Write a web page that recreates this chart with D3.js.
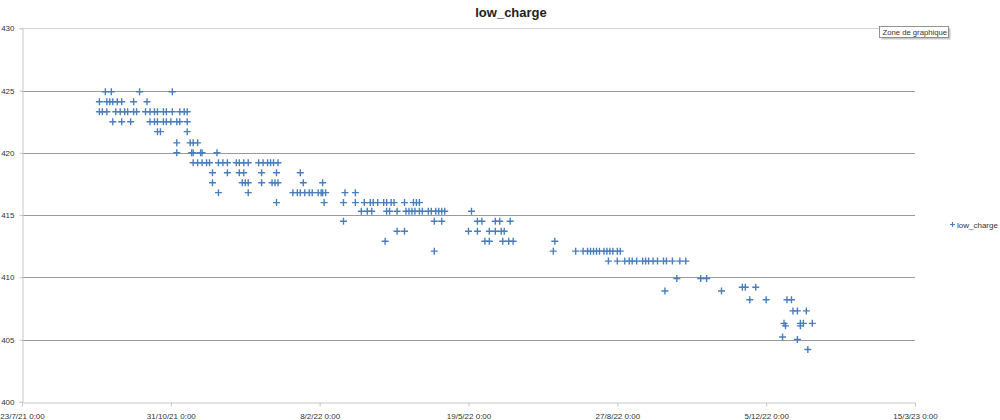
<!DOCTYPE html>
<html><head><meta charset="utf-8">
<script src="https://cdn.jsdelivr.net/npm/d3@7"></script>
<style>
body{margin:0;background:#fff}
svg{display:block;font-family:"Liberation Sans",Arial,sans-serif}
</style>
</head><body>
<svg id="chart" width="1000" height="420"></svg>
<script>
const chartTitle = "low_charge";
const seriesName = "low_charge";
const tooltipText = "Zone de graphique";

const dates = [
  "2021-09-17","2021-09-21","2021-10-10","2021-11-01",
  "2021-09-13","2021-09-18","2021-09-20","2021-09-22","2021-09-25","2021-09-28","2021-10-06","2021-10-15",
  "2021-09-13","2021-09-15","2021-09-18","2021-09-24","2021-09-27","2021-09-30","2021-10-02","2021-10-06","2021-10-08","2021-10-14","2021-10-17","2021-10-20","2021-10-22","2021-10-26","2021-10-28","2021-11-01","2021-11-06","2021-11-09","2021-11-11",
  "2021-09-22","2021-09-28","2021-10-04","2021-10-17","2021-10-20","2021-10-22","2021-10-26","2021-10-28","2021-10-31","2021-11-04","2021-11-06","2021-11-11",
  "2021-10-22","2021-10-24","2021-11-11",
  "2021-11-04","2021-11-13","2021-11-15","2021-11-18",
  "2021-11-04","2021-11-14","2021-11-15","2021-11-20","2021-11-21","2021-12-01",
  "2021-11-15","2021-11-18","2021-11-21","2021-11-24","2021-11-26","2021-12-02","2021-12-05","2021-12-08","2021-12-14","2021-12-16","2021-12-19","2021-12-22","2021-12-29","2022-01-01","2022-01-04","2022-01-06","2022-01-08","2022-01-11",
  "2021-11-28","2021-12-08","2021-12-16","2021-12-19","2021-12-31","2022-01-10","2022-01-26",
  "2021-11-28","2021-12-18","2021-12-20","2021-12-22","2021-12-31","2022-01-07","2022-01-09","2022-01-11","2022-01-28","2022-02-10",
  "2021-12-02","2021-12-22","2022-01-21","2022-01-24","2022-01-26","2022-01-29","2022-02-01","2022-02-03","2022-02-07","2022-02-09","2022-02-10","2022-02-12","2022-02-25","2022-03-04",
  "2022-01-10","2022-02-11","2022-02-24","2022-03-04","2022-03-10","2022-03-14","2022-03-16","2022-03-19","2022-03-23","2022-03-25","2022-03-28","2022-03-30","2022-04-06","2022-04-12","2022-04-14","2022-04-16",
  "2022-03-08","2022-03-12","2022-03-15","2022-03-25","2022-03-27","2022-04-01","2022-04-07","2022-04-09","2022-04-11","2022-04-13","2022-04-16","2022-04-18","2022-04-22","2022-04-24","2022-04-27","2022-04-29","2022-05-01","2022-05-03","2022-05-21",
  "2022-02-24","2022-04-26","2022-05-01","2022-05-25","2022-05-28","2022-06-06","2022-06-09","2022-06-16",
  "2022-04-01","2022-04-06","2022-05-19","2022-05-25","2022-06-02","2022-06-06","2022-06-10","2022-06-12",
  "2022-03-24","2022-05-30","2022-06-02","2022-06-11","2022-06-15","2022-06-18","2022-07-16",
  "2022-04-26","2022-07-15","2022-07-30","2022-08-04","2022-08-07","2022-08-09","2022-08-11","2022-08-13","2022-08-15","2022-08-18","2022-08-20","2022-08-22","2022-08-24","2022-08-27","2022-08-29",
  "2022-08-21","2022-08-27","2022-09-01","2022-09-04","2022-09-06","2022-09-09","2022-09-13","2022-09-15","2022-09-17","2022-09-20","2022-09-23","2022-09-27","2022-09-29","2022-10-03","2022-10-08","2022-10-12",
  "2022-10-06","2022-10-22","2022-10-26",
  "2022-11-19","2022-11-21","2022-11-28",
  "2022-09-28","2022-11-05",
  "2022-11-24","2022-12-05","2022-12-19","2022-12-22",
  "2022-12-23","2022-12-26","2023-01-01",
  "2022-12-17","2022-12-28","2022-12-30","2023-01-05",
  "2022-12-18","2022-12-28",
  "2022-12-16",
  "2022-12-26",
  "2023-01-02"
];

const lowCharge = [
  424.9,424.9,424.9,424.9,
  424.1,424.1,424.1,424.1,424.1,424.1,424.1,424.1,
  423.3,423.3,423.3,423.3,423.3,423.3,423.3,423.3,423.3,423.3,423.3,423.3,423.3,423.3,423.3,423.3,423.3,423.3,423.3,
  422.5,422.5,422.5,422.5,422.5,422.5,422.5,422.5,422.5,422.5,422.5,422.5,
  421.7,421.7,421.7,
  420.8,420.8,420.8,420.8,
  420.0,420.0,420.0,420.0,420.0,420.0,
  419.2,419.2,419.2,419.2,419.2,419.2,419.2,419.2,419.2,419.2,419.2,419.2,419.2,419.2,419.2,419.2,419.2,419.2,
  418.4,418.4,418.4,418.4,418.4,418.4,418.4,
  417.6,417.6,417.6,417.6,417.6,417.6,417.6,417.6,417.6,417.6,
  416.8,416.8,416.8,416.8,416.8,416.8,416.8,416.8,416.8,416.8,416.8,416.8,416.8,416.8,
  416.0,416.0,416.0,416.0,416.0,416.0,416.0,416.0,416.0,416.0,416.0,416.0,416.0,416.0,416.0,416.0,
  415.3,415.3,415.3,415.3,415.3,415.3,415.3,415.3,415.3,415.3,415.3,415.3,415.3,415.3,415.3,415.3,415.3,415.3,415.3,
  414.5,414.5,414.5,414.5,414.5,414.5,414.5,414.5,
  413.7,413.7,413.7,413.7,413.7,413.7,413.7,413.7,
  412.9,412.9,412.9,412.9,412.9,412.9,412.9,
  412.1,412.1,412.1,412.1,412.1,412.1,412.1,412.1,412.1,412.1,412.1,412.1,412.1,412.1,412.1,
  411.3,411.3,411.3,411.3,411.3,411.3,411.3,411.3,411.3,411.3,411.3,411.3,411.3,411.3,411.3,411.3,
  409.9,409.9,409.9,
  409.2,409.2,409.2,
  408.9,408.9,
  408.2,408.2,408.2,408.2,
  407.3,407.3,407.3,
  406.3,406.3,406.3,406.3,
  406.1,406.1,
  405.2,
  405.0,
  404.2
];

const xTickDates = ["2021-07-23","2021-10-31","2022-02-08","2022-05-19","2022-08-27","2022-12-05","2023-03-15"];
const xTickLabels = ["23/7/21 0:00","31/10/21 0:00","8/2/22 0:00","19/5/22 0:00","27/8/22 0:00","5/12/22 0:00","15/3/23 0:00"];
const yTicks = [400,405,410,415,420,425,430];

const parse = d3.utcParse("%Y-%m-%d");
const points = dates.map((d,i)=>({date:parse(d), value:lowCharge[i]}));
const tickDates = xTickDates.map(parse);

const svg = d3.select("#chart");
const plot = {left:22, right:915, top:28.3, bottom:401.8};

const x = d3.scaleUtc().domain([tickDates[0], tickDates[tickDates.length-1]]).range([plot.left, plot.right]);
const y = d3.scaleLinear().domain([400,430]).range([plot.bottom, plot.top]);

// gridlines
svg.append("g").selectAll("line").data(yTicks.filter(v=>v>400)).join("line")
  .attr("x1", plot.left).attr("x2", plot.right)
  .attr("y1", d=>Math.round(y(d))+0.5).attr("y2", d=>Math.round(y(d))+0.5)
  .attr("stroke", d=> d===430 ? "#d4d4d4" : "#9a9a9a").attr("stroke-width",1);

// y axis
const yAxis = d3.axisLeft(y).tickValues(yTicks).tickSize(3).tickPadding(5).tickFormat(d3.format("d"));
const gy = svg.append("g").attr("transform",`translate(${plot.left+0.5},0)`).call(yAxis);
gy.select(".domain").attr("stroke","#c8c8c8");
gy.selectAll(".tick line").attr("stroke","#c8c8c8");
gy.selectAll(".tick text").attr("font-size","8px").attr("fill","#333").attr("font-family","Liberation Sans, Arial, sans-serif");

// x axis
const xAxis = d3.axisBottom(x).tickValues(tickDates).tickSize(4).tickPadding(7)
  .tickFormat((d,i)=>xTickLabels[i]);
const gx = svg.append("g").attr("transform",`translate(0,${Math.round(plot.bottom)+0.5})`).call(xAxis);
gx.select(".domain").attr("stroke","#c8c8c8");
gx.selectAll(".tick line").attr("stroke","#c8c8c8");
gx.selectAll(".tick text").attr("font-size","8px").attr("fill","#333").attr("font-family","Liberation Sans, Arial, sans-serif");

// markers
const plus = "M-3.5,0H3.5M0,-3.5V3.5";
svg.append("g").selectAll("path").data(points).join("path")
  .attr("d", plus)
  .attr("transform", d=>`translate(${x(d.date)},${y(d.value)})`)
  .attr("stroke","#4a7ebb").attr("stroke-width",1.4).attr("fill","none");

// title
svg.append("text").attr("x",511).attr("y",16.5).attr("text-anchor","middle")
  .attr("font-size","13px").attr("font-weight","bold").attr("fill","#222").text(chartTitle);

// legend
svg.append("path").attr("d","M-2.5,0H2.5M0,-2.5V2.5").attr("transform","translate(952.5,224.5)")
  .attr("stroke","#4a7ebb").attr("stroke-width",1.2).attr("fill","none");
svg.append("text").attr("x",957).attr("y",227.5).attr("font-size","8px").attr("fill","#333").text(seriesName);

// tooltip
const tip = svg.append("g").attr("transform","translate(879.5,26.5)");
tip.append("rect").attr("x",2).attr("y",2).attr("width",69).attr("height",11).attr("fill","#c8c8c8");
tip.append("rect").attr("width",69).attr("height",11).attr("fill","#fff").attr("stroke","#7a7a7a").attr("stroke-width",0.8);
tip.append("text").attr("x",3).attr("y",8.3).attr("font-size","7.7px").attr("fill","#333").text(tooltipText);
</script>
</body></html>
